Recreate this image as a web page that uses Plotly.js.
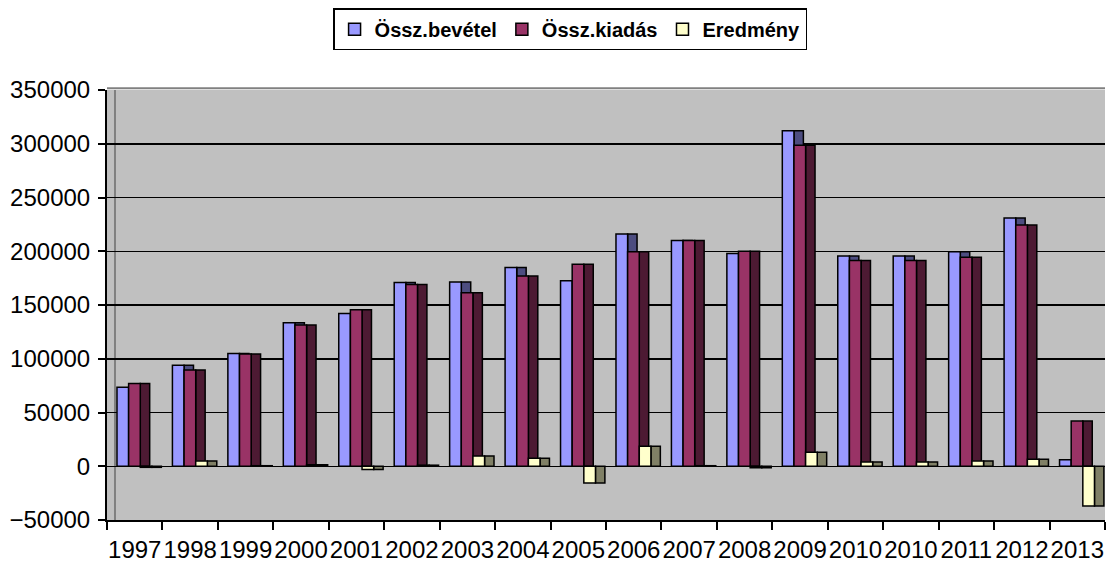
<!DOCTYPE html>
<html>
<head>
<meta charset="utf-8">
<script src="https://cdn.plot.ly/plotly-3.0.1.min.js"></script>
<style>html,body{margin:0;padding:0;background:#fff;}#chart{width:1107px;height:562px;}</style>
</head>
<body>
<div id="chart"></div>
<script>
// Data
var years = ['1997','1998','1999','2000','2001','2002','2003','2004','2005','2006','2007','2008','2009','2010','2010','2011','2012','2013'];
var bevetel = [73500, 94000, 105000, 133500, 142000, 171000, 171500, 185000, 172500, 216000, 210000, 198000, 312000, 195500, 195500, 199500, 231000, 6000];
var kiadas  = [77000, 89500, 104500, 131500, 145500, 169000, 161500, 177000, 188000, 199500, 210000, 200000, 298500, 191500, 191500, 194500, 224500, 42000];
var eredmeny = [-1000, 5000, 500, 1500, -3000, 1000, 9500, 7500, -15500, 18500, 500, -1500, 13000, 4000, 4000, 5000, 6500, -37000];
var seriesNames = ['Össz.bevétel', 'Össz.kiadás', 'Eredmény'];

var idx = years.map(function(_, i){ return i; });
var frontColors = ['#9999ff', '#993366', '#ffffcc'];
var sideColors  = ['#4d4d80', '#4d1a33', '#808066'];
var frontOffsets = [-0.32, -0.11, 0.10];
var W = 0.21, SW = 0.17;
var allSeries = [bevetel, kiadas, eredmeny];

var traces = [];
allSeries.forEach(function(vals, s){
  // side (depth) face
  traces.push({
    type: 'bar', x: idx, y: vals, offset: frontOffsets[s] + W, width: SW,
    marker: {color: sideColors[s], line: {color: '#000', width: 1.5}},
    showlegend: false, hoverinfo: 'skip'
  });
  // front face
  traces.push({
    type: 'bar', x: idx, y: vals, offset: frontOffsets[s], width: W, name: seriesNames[s],
    marker: {color: frontColors[s], line: {color: '#000', width: 1.5}}
  });
});

var layout = {
  width: 1107, height: 562,
  margin: {l: 107, r: 2, t: 90, b: 42},
  paper_bgcolor: '#ffffff',
  plot_bgcolor: '#c0c0c0',
  barmode: 'overlay',
  font: {family: 'Liberation Sans, Arial, sans-serif', color: '#000', size: 24},
  showlegend: true,
  legend: {
    orientation: 'h', x: 0.464, xanchor: 'center', y: 1.19, yanchor: 'top',
    bgcolor: '#fff', bordercolor: '#000', borderwidth: 1.5,
    font: {size: 20, family: 'Liberation Sans, Arial, sans-serif', weight: 'bold'},
    itemwidth: 30, traceorder: 'normal'
  },
  xaxis: {
    range: [-0.5, 17.5], tickmode: 'array', tickvals: idx, ticktext: years,
    ticks: '', showgrid: false, zeroline: false,
    showline: true, linecolor: '#000', linewidth: 2,
    minor: {tick0: 0.5, dtick: 1, ticks: 'outside', ticklen: 8, tickwidth: 2, tickcolor: '#000', showgrid: false},
    tickfont: {size: 24}, ticklabelstandoff: 7, fixedrange: true
  },
  yaxis: {
    range: [-50000, 350000], dtick: 50000, tick0: 0, tickformat: 'd',
    ticks: 'outside', ticklen: 7, tickwidth: 2, tickcolor: '#000',
    showgrid: true, gridcolor: '#000', gridwidth: 1.5,
    zeroline: true, zerolinecolor: '#000', zerolinewidth: 1.5,
    showline: true, linecolor: '#000', linewidth: 2,
    tickfont: {size: 24}, fixedrange: true, ticklabelstandoff: 3
  },
  shapes: [
    {type: 'line', xref: 'paper', yref: 'paper', x0: 0.008, x1: 0.008, y0: 0, y1: 1, line: {color: '#808080', width: 2}, layer: 'below'},
    {type: 'line', xref: 'paper', yref: 'paper', x0: 0, x1: 1, y0: 1.004, y1: 1.004, line: {color: '#808080', width: 2}}
  ]
};

Plotly.newPlot('chart', traces, layout, {displayModeBar: false, staticPlot: true});
</script>
</body>
</html>
